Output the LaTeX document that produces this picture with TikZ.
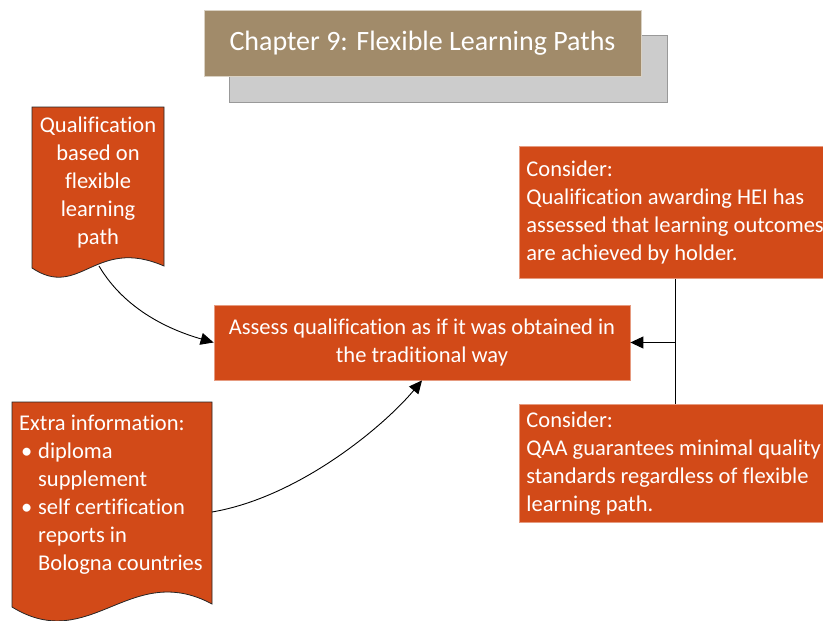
\documentclass[tikz,border=0pt]{standalone}
\usepackage{fontspec}
\setmainfont[Ligatures=NoCommon]{Carlito}
\usetikzlibrary{arrows.meta}
\definecolor{boxorange}{HTML}{D24A18}
\definecolor{titlebrown}{HTML}{A18B6A}
\definecolor{shadowgray}{HTML}{CCCCCC}
\newcommand\mybul{\makebox[19pt][l]{\hspace{2pt}•}}
\begin{document}
\begin{tikzpicture}[x=1pt,y=-1pt,
  txt/.style={text=white,font=\fontsize{22.5}{28}\selectfont},
  obox/.style={fill=boxorange,draw=boxorange!55!white,line width=0.8pt,inner sep=0pt},
  docshape/.style={fill=boxorange,draw=black!85,line width=0.8pt},
  conn/.style={line width=0.9pt,-{Triangle[length=13pt,width=12pt]}}]
\useasboundingbox (0,0) rectangle (823,621);
% title
\node[fill=shadowgray,draw=black!40,line width=0.8pt,minimum width=438pt,minimum height=67pt,inner sep=0pt] (shadow) at (448,68.5) {};
\node[fill=titlebrown,draw=titlebrown!40!white,line width=0.8pt,minimum width=437pt,minimum height=66pt,inner sep=0pt,text=white,font=\fontsize{28}{34}\selectfont] (title) at (422.5,43) {Chapter 9: Flexible Learning Paths};
% main
\node[obox,txt,minimum width=416pt,minimum height=75pt,align=center] (main) at (422,342.5) {Assess qualification as if it was obtained in\\the traditional way};
% consider boxes
\node[obox,txt,anchor=north west,minimum height=132pt,text width=367pt,align=flush left,inner xsep=7pt] (c1) at (519,146) {Consider:\\Qualification awarding HEI has\\assessed that learning outcomes\\are achieved by holder.};
\node[obox,txt,anchor=north west,minimum height=118pt,text width=367pt,align=flush left,inner xsep=7pt] (c2) at (519,404) {Consider:\\QAA guarantees minimal quality\\standards regardless of flexible\\learning path.};
% document 1
\draw[docshape] (32,107) -- (164,107) -- (164,266) .. controls (95,236) and (80,300) .. (32,268) -- cycle;
\node[txt,align=center,inner sep=0pt] (doc1) at (98,182) {Qualification\\based on\\flexible\\learning\\path};
\coordinate (doc1b) at (99,266);
% document 2
\draw[docshape] (12,402) -- (212,402) -- (212,604) .. controls (130,560) and (90,655) .. (12,607) -- cycle;
\node[txt,align=left,anchor=west,inner sep=0pt] (doc2) at (19,495) {Extra information:\\\mybul diploma\\\hspace*{19pt}supplement\\\mybul self certification\\\hspace*{19pt}reports in\\\hspace*{19pt}Bologna countries};
\coordinate (doc2r) at (212,512);
% connectors
\draw[conn] (doc1b) .. controls (125,310) and (170,330) .. (main.west);
\draw[conn] (doc2r) .. controls (300,497) and (385,425) .. (main.south);
\coordinate (j) at (675,342.5);
\draw[line width=0.9pt] (c1.south -| j) -- (c2.north -| j);
\draw[conn] (j) -- (main.east);
\end{tikzpicture}
\end{document}
